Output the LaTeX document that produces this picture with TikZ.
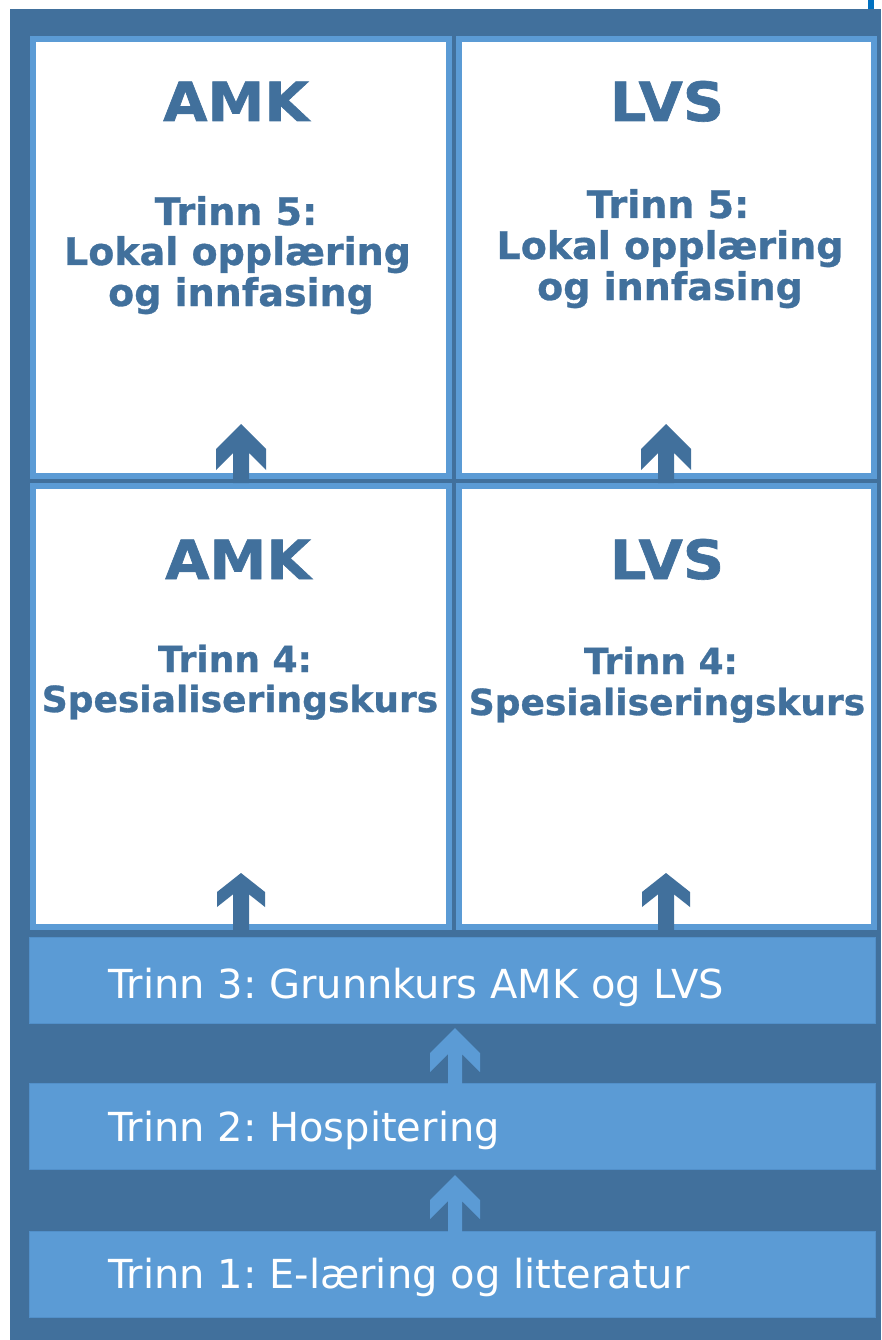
\documentclass[tikz,border=0pt]{standalone}
\usepackage{fontspec}
\setmainfont{DejaVu Sans}
\newfontfamily\ttlfont[FakeStretch=1.06,FakeBold=1.2]{DejaVu Sans Bold}
\newfontfamily\subfont[FakeBold=0.8]{DejaVu Sans Bold}
\definecolor{dkb}{HTML}{41709C}
\definecolor{ltb}{HTML}{5B9BD5}
\definecolor{barline}{HTML}{5290CA}
\definecolor{markb}{HTML}{0070C0}
\newcommand\blkarrow[8]{% color, cx, tip y, shoulder dy, head-bottom dy, half head, half shaft, bottom y
  \fill[#1] (#2,#3) -- ({#2-#6},{#3+#4}) -- ({#2-#6},{#3+#5})
    -- ({#2-#7},{#3+#5-(#6-#7)*#4/#6}) -- ({#2-#7},#8) -- ({#2+#7},#8)
    -- ({#2+#7},{#3+#5-(#6-#7)*#4/#6}) -- ({#2+#6},{#3+#5}) -- ({#2+#6},{#3+#4}) -- cycle;}
\frenchspacing
\begin{document}
\begin{tikzpicture}[x=1pt,y=-1pt,
  box/.style={draw=ltb,line width=6pt,fill=white,inner sep=0pt,rectangle},
  bar/.style={draw=barline,line width=1pt,fill=ltb,inner sep=0pt,rectangle,minimum width=846pt,minimum height=86pt},
  ttl/.style={text=dkb,font=\fontsize{54}{60}\ttlfont,anchor=base,inner sep=0pt},
  sub/.style={text=dkb,font=\fontsize{36}{40}\subfont,anchor=base,inner sep=0pt},
  subbig/.style={sub,font=\fontsize{38}{42}\subfont},
  bartxt/.style={text=white,font=\fontsize{40}{44}\selectfont,anchor=base west,inner sep=0pt}]
\useasboundingbox (0,0) rectangle (881,1340);
\fill[white] (0,0) rectangle (881,1340);
\fill[dkb] (10,9) rectangle (881,1340);
\fill[markb] (868,0) rectangle (874,9);
% boxes
\node[box,minimum width=416pt,minimum height=437pt] (tl) at (241,257.5) {};
\node[box,minimum width=415pt,minimum height=437pt] (tr) at (666.5,257.5) {};
\node[box,minimum width=416pt,minimum height=441pt] (ml) at (241,706.5) {};
\node[box,minimum width=415pt,minimum height=441pt] (mr) at (666.5,706.5) {};
% bars
\node[bar] (b3) at (452,980.5) {};
\node[bar] (b2) at (452,1126.5) {};
\node[bar] (b1) at (452,1274) {};
% texts top
\node[ttl] (tlt) at (236,121) {AMK};
\node[subbig] (tl1) at (236,225) {Trinn 5:};
\node[subbig] (tl2) at (237.5,265) {Lokal opplæring};
\node[subbig] (tl3) at (241,306) {og innfasing};
\node[ttl] (trt) at (667,121) {LVS};
\node[subbig] (tr1) at (668,218) {Trinn 5:};
\node[subbig] (tr2) at (670,259) {Lokal opplæring};
\node[subbig] (tr3) at (670,300) {og innfasing};
% texts middle
\node[ttl] (mlt) at (238,579) {AMK};
\node[sub] (ml1) at (235,672) {Trinn 4:};
\node[sub] (ml2) at (240,712) {Spesialiseringskurs};
\node[ttl] (mrt) at (667,579) {LVS};
\node[sub] (mr1) at (661,674) {Trinn 4:};
\node[sub] (mr2) at (667,715) {Spesialiseringskurs};
% bar texts
\node[bartxt] (t3) at (108,998) {Trinn 3: Grunnkurs AMK og LVS};
\node[bartxt] (t2) at (108,1141) {Trinn 2: Hospitering};
\node[bartxt] (t1) at (108,1288) {Trinn 1: E-læring og litteratur};
% arrows
\blkarrow{dkb}{241}{424}{25}{46}{25}{8}{483}
\blkarrow{dkb}{666}{424}{25}{46}{25}{8}{483}
\blkarrow{dkb}{241}{873}{19}{34}{24}{8}{933}
\blkarrow{dkb}{666}{873}{19}{34}{24}{8}{933}
\blkarrow{ltb}{455}{1028}{25}{44}{25}{7}{1084}
\blkarrow{ltb}{455}{1175}{25}{44}{25}{7}{1232}
\end{tikzpicture}
\end{document}
